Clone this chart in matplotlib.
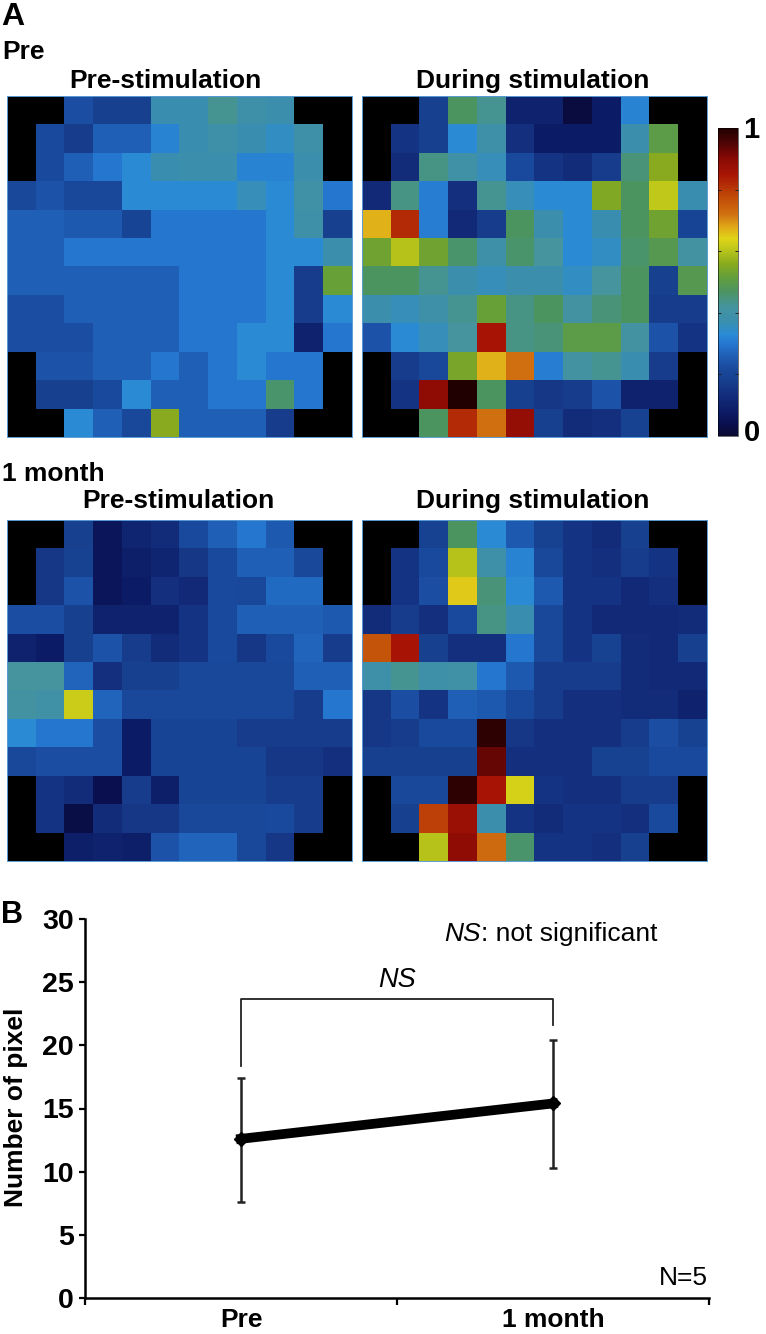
import numpy as np
import matplotlib
matplotlib.use("Agg")
import matplotlib.pyplot as plt
from matplotlib.colors import LinearSegmentedColormap

n = np.nan
pre_pre = [
 [n,n,.23,.18,.18,.37,.37,.43,.39,.38,n,n],
 [n,.22,.17,.26,.26,.32,.37,.39,.37,.35,.39,n],
 [n,.22,.26,.30,.33,.37,.38,.38,.32,.32,.38,n],
 [.21,.24,.21,.21,.33,.33,.33,.33,.36,.33,.40,.30],
 [.26,.26,.25,.25,.20,.30,.30,.30,.30,.33,.39,.18],
 [.26,.26,.30,.30,.30,.30,.30,.30,.30,.33,.33,.38],
 [.26,.26,.26,.26,.26,.26,.30,.30,.30,.33,.17,.52],
 [.23,.23,.26,.26,.26,.26,.30,.30,.30,.33,.17,.33],
 [.23,.23,.23,.26,.26,.26,.30,.30,.33,.33,.10,.30],
 [n,.24,.24,.26,.26,.30,.26,.30,.33,.30,.30,n],
 [n,.18,.18,.22,.33,.26,.26,.30,.30,.46,.30,n],
 [n,n,.33,.26,.21,.56,.26,.26,.26,.17,n,n],
]
pre_during = [
 [n,n,.18,.47,.43,.10,.10,.02,.08,.32,n,n],
 [n,.15,.18,.33,.39,.14,.08,.08,.08,.38,.50,n],
 [n,.13,.44,.40,.36,.22,.15,.13,.17,.45,.56,n],
 [.12,.44,.31,.14,.43,.36,.33,.33,.55,.47,.61,.37],
 [.67,.82,.31,.12,.17,.47,.38,.33,.37,.47,.53,.20],
 [.53,.60,.53,.46,.39,.46,.42,.33,.35,.46,.49,.41],
 [.47,.47,.43,.38,.36,.38,.38,.35,.42,.47,.18,.49],
 [.38,.36,.39,.43,.52,.44,.47,.41,.45,.47,.17,.17],
 [.24,.33,.36,.42,.85,.44,.45,.50,.50,.41,.24,.15],
 [n,.17,.21,.54,.67,.72,.31,.41,.43,.37,.17,n],
 [n,.15,.89,1.0,.47,.18,.16,.17,.24,.10,.10,n],
 [n,n,.47,.82,.72,.88,.18,.13,.14,.19,n,n],
]
month_pre = [
 [n,n,.18,.06,.11,.13,.22,.26,.30,.25,n,n],
 [n,.16,.19,.06,.09,.11,.16,.22,.26,.26,.21,n],
 [n,.16,.24,.06,.08,.14,.12,.22,.21,.28,.28,n],
 [.23,.23,.18,.10,.10,.10,.15,.22,.26,.26,.26,.25],
 [.10,.08,.18,.24,.17,.13,.15,.22,.16,.22,.27,.17],
 [.42,.42,.27,.14,.18,.18,.21,.21,.21,.21,.26,.26],
 [.41,.40,.62,.27,.21,.21,.21,.21,.21,.21,.17,.30],
 [.33,.30,.30,.23,.08,.20,.20,.20,.17,.17,.17,.17],
 [.21,.23,.23,.23,.08,.20,.20,.20,.20,.16,.16,.14],
 [n,.15,.13,.04,.17,.09,.20,.20,.20,.17,.17,n],
 [n,.15,.03,.13,.16,.16,.21,.21,.21,.22,.17,n],
 [n,n,.09,.10,.09,.24,.27,.27,.21,.16,n,n],
]
month_during = [
 [n,n,.19,.47,.33,.25,.19,.15,.13,.18,n,n],
 [n,.15,.22,.60,.39,.32,.21,.15,.14,.17,.15,n],
 [n,.15,.23,.65,.45,.33,.25,.15,.15,.12,.14,n],
 [.13,.17,.14,.22,.44,.37,.21,.15,.12,.12,.12,.13],
 [.76,.85,.18,.14,.14,.30,.21,.15,.19,.13,.12,.18],
 [.39,.43,.39,.40,.30,.25,.17,.17,.17,.13,.12,.12],
 [.16,.23,.15,.26,.25,.22,.17,.14,.14,.13,.13,.10],
 [.16,.17,.22,.22,.985,.16,.14,.14,.14,.17,.23,.19],
 [.18,.18,.18,.18,.93,.14,.14,.14,.19,.19,.22,.22],
 [n,.21,.21,.985,.85,.63,.15,.14,.14,.17,.17,n],
 [n,.18,.79,.87,.38,.15,.13,.15,.15,.14,.22,n],
 [n,n,.60,.89,.73,.46,.15,.15,.14,.18,n,n],
]
panel_titles = ["Pre-stimulation", "During stimulation"]
categories = ["Pre", "1 month"]
means = [12.6, 15.4]
err_low = [7.6, 10.3]
err_high = [17.4, 20.4]
y_ticks = [0, 5, 10, 15, 20, 25, 30]

cmap_stops = [(0,'#0a0a30'),(.04,'#0a1050'),(.08,'#0d1c66'),(.14,'#14307f'),(.18,'#17408f'),(.22,'#1a4a9e'),(.26,'#1f5fb5'),
 (.30,'#2577d0'),(.33,'#2b8bd5'),(.37,'#3a8fb0'),(.42,'#45949f'),(.47,'#4c9460'),(.52,'#66a038'),
 (.56,'#8aab1e'),(.61,'#c0c81a'),(.64,'#e0d418'),(.68,'#e0a818'),(.72,'#d07010'),(.78,'#c04808'),
 (.85,'#a81505'),(.90,'#8a0a05'),(.95,'#500505'),(1,'#200000')]
cmap = LinearSegmentedColormap.from_list("m", cmap_stops, N=512)
cmap.set_bad('black')

plt.rcParams['font.family'] = ['Liberation Sans', 'DejaVu Sans']
W, H = 766, 1334
fig = plt.figure(figsize=(W/100, H/100), dpi=100, facecolor='white')

def pxaxes(x0, y0, x1, y1):
    return fig.add_axes([x0/W, 1-y1/H, (x1-x0)/W, (y1-y0)/H])

def txt(x, y, s, **k):
    fig.text(x/W, 1-y/H, s, **k)

def heat(box, data):
    ax = pxaxes(*box)
    im = ax.imshow(np.array(data), cmap=cmap, vmin=0, vmax=1, interpolation='nearest', aspect='auto')
    ax.set_xticks([]); ax.set_yticks([])
    for s in ax.spines.values():
        s.set_color('#5b9bd5'); s.set_linewidth(0.7)
    return im

im = heat((7, 96, 352, 437), pre_pre)
heat((362, 96, 707, 437), pre_during)
heat((7, 520, 352, 861), month_pre)
heat((362, 520, 707, 861), month_during)

bold = dict(fontweight='bold', color='black', va='center')
txt(1, 17, "A", fontsize=23, ha='left', **bold)
txt(2, 52, "Pre", fontsize=19, ha='left', **bold)
txt(2, 474, "1 month", fontsize=19, ha='left', **bold)
txt(1, 915, "B", fontsize=22, ha='left', **bold)
txt(165, 81, panel_titles[0], fontsize=19, ha='center', **bold)
txt(533, 81, panel_titles[1], fontsize=19, ha='center', **bold)
txt(178, 501, panel_titles[0], fontsize=19, ha='center', **bold)
txt(533, 501, panel_titles[1], fontsize=19, ha='center', **bold)

cax = pxaxes(718, 128, 738, 436)
cb = fig.colorbar(im, cax=cax, ticks=[.2, .4, .6, .8])
cb.ax.tick_params(direction='in', length=2, width=0.7, color='#222222', labelright=False, left=True, right=True)
cb.outline.set_linewidth(0.4)
txt(751, 130, "1", fontsize=21, ha='center', **bold)
txt(752, 433, "0", fontsize=21, ha='center', **bold)

ax = pxaxes(85, 919, 709, 1298)
x = [1, 2]
ax.errorbar(x, means, yerr=[np.array(means)-np.array(err_low), np.array(err_high)-np.array(means)],
            color='black', lw=7, marker='D', ms=7.5, ecolor='#222222', elinewidth=1.8,
            capsize=3.2, capthick=1.8, zorder=3)
ax.plot([1, 1, 2, 2], [18.4, 23.7, 23.7, 21.6], color='#222222', lw=1.3)
ax.text(1.5, 25.2, "NS", fontsize=19.5, style='italic', ha='center', va='center')
txt(481, 934, "NS", fontsize=19, style='italic', ha='right', va='center')
txt(481, 934, ": not significant", fontsize=19, ha='left', va='center')
ax.text(2.497, 1.6, "N=5", fontsize=19, ha='right', va='center')
ax.set_xlim(0.5, 2.5)
ax.set_ylim(0, 30)
ax.set_xticks([0.5, 1.5, 2.5])
ax.set_xticklabels([])
ax.set_yticks(y_ticks)
ax.set_xticks(x, categories, minor=True)
ax.tick_params(axis='x', which='minor', length=0, pad=7, labelsize=19)
for l in ax.get_xticklabels(minor=True):
    l.set_fontweight('bold')
ax.tick_params(axis='x', which='major', length=5, width=1.6, direction='out')
ax.tick_params(axis='y', length=4, width=1.6, labelsize=20.5, pad=4)
for l in ax.get_yticklabels():
    l.set_fontweight('bold')
for s in ('top', 'right'):
    ax.spines[s].set_visible(False)
for s in ('left', 'bottom'):
    ax.spines[s].set_linewidth(1.8)
txt(16, 1107, "Number of pixel", fontsize=19, fontweight='bold', rotation=90, ha='center', va='center')

fig.savefig("out.png", dpi=100, facecolor='white')
